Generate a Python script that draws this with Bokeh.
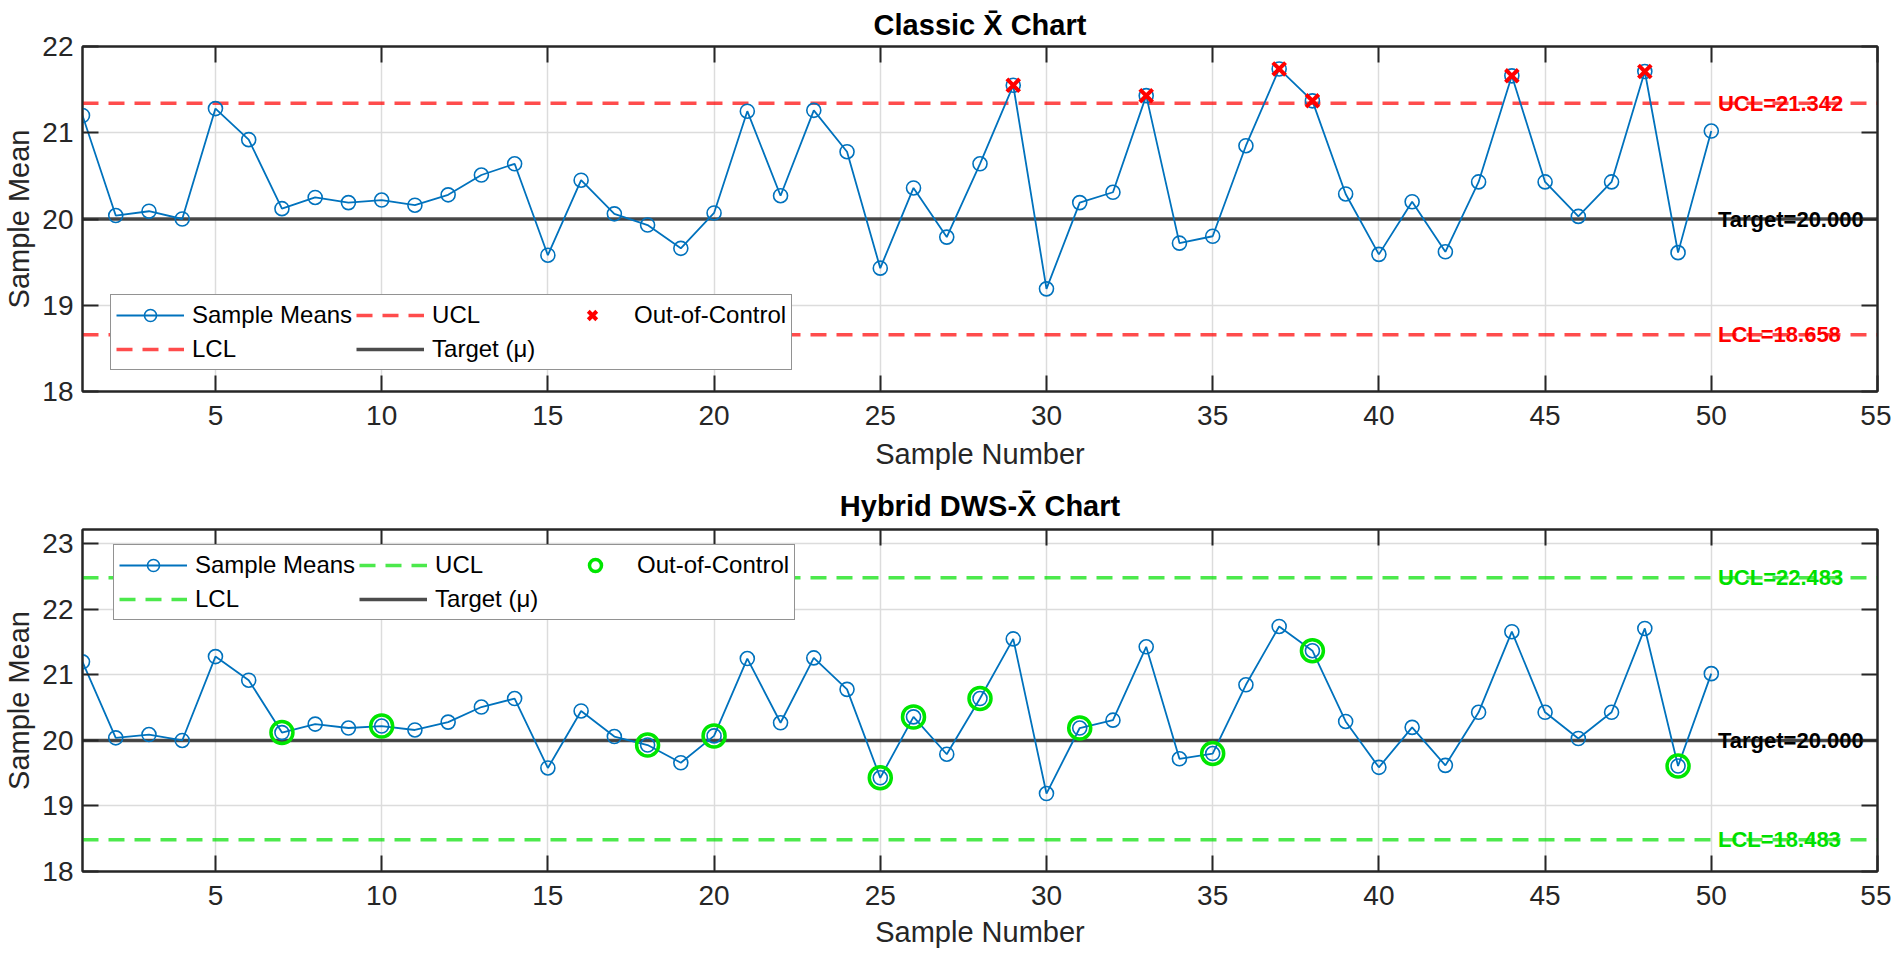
from bokeh.plotting import figure
from bokeh.models import Range1d, FixedTicker, LinearAxis, Legend, LegendItem
from bokeh.layouts import column
from bokeh.core.properties import value
from bokeh.embed import file_html
from bokeh.resources import INLINE

# ---------------- data ----------------
sample_no = list(range(1, 51))
sample_means = [21.20, 20.04, 20.09, 20.00, 21.28, 20.92, 20.12, 20.25, 20.19, 20.22,
                20.16, 20.28, 20.51, 20.64, 19.58, 20.45, 20.06, 19.93, 19.66, 20.07,
                21.25, 20.27, 21.26, 20.78, 19.43, 20.36, 19.79, 20.64, 21.55, 19.19,
                20.19, 20.31, 21.43, 19.72, 19.80, 20.85, 21.74, 21.37, 20.29, 19.59,
                20.20, 19.62, 20.43, 21.66, 20.43, 20.03, 20.43, 21.71, 19.61, 21.02]
target = 20.000
classic_ucl = 21.342
classic_lcl = 18.658
hybrid_ucl = 22.483
hybrid_lcl = 18.483
classic_ooc = [29, 33, 37, 38, 44, 48]
hybrid_ooc = [7, 10, 18, 20, 25, 26, 28, 31, 35, 38, 49]
x_limits = [1, 55]
x_ticks = [5, 10, 15, 20, 25, 30, 35, 40, 45, 50, 55]
classic_y_limits = [18, 22]
classic_y_ticks = [18, 19, 20, 21, 22]
hybrid_y_limits = [18, 23.22]
hybrid_y_ticks = [18, 19, 20, 21, 22, 23]
titles = ["Classic X\u0304 Chart", "Hybrid DWS-X\u0304 Chart"]

FONT = "Liberation Sans"
AX = "#262626"
BLUE = "#0072BD"


def make_chart(title, ylim, yticks, ucl, lcl, ooc_idx, lim_color, ooc_kind,
               top_border, title_standoff, frame_h, bottom_border, label_standoff,
               legend_loc):
    p = figure(frame_width=1795, frame_height=frame_h, output_backend="svg",
               toolbar_location=None, x_range=Range1d(*x_limits),
               y_range=Range1d(*ylim), min_border_left=77, min_border_right=14,
               min_border_top=top_border, min_border_bottom=bottom_border,
               background_fill_color="white", border_fill_color="white")
    p.outline_line_color = AX
    p.outline_line_width = 2
    p.title.text = title
    p.title.text_font = FONT
    p.title.text_font_size = "29px"
    p.title.text_font_style = "bold"
    p.title.text_color = "black"
    p.title.align = "center"
    p.title.standoff = title_standoff

    for ax, tk in ((p.xaxis[0], x_ticks), (p.yaxis[0], yticks)):
        ax.ticker = FixedTicker(ticks=tk)
        ax.major_tick_in = 16
        ax.major_tick_out = 0
        ax.minor_tick_line_color = None
        ax.axis_line_color = AX
        ax.axis_line_width = 2
        ax.major_tick_line_color = AX
        ax.major_tick_line_width = 2
        ax.major_label_text_font = FONT
        ax.major_label_text_font_size = "28px"
        ax.major_label_text_color = AX
        ax.axis_label_text_font = FONT
        ax.axis_label_text_font_size = "29px"
        ax.axis_label_text_font_style = "normal"
        ax.axis_label_text_color = AX
    p.xaxis.axis_label = "Sample Number"
    p.yaxis.axis_label = "Sample Mean"
    p.xaxis.major_label_standoff = 14
    p.xaxis.axis_label_standoff = label_standoff
    p.yaxis.major_label_standoff = 9
    p.yaxis.axis_label_standoff = 4

    # box ticks on the top and right edges (no labels)
    for side, tk in (("above", x_ticks), ("right", yticks)):
        a = LinearAxis(ticker=FixedTicker(ticks=tk), major_tick_in=16, major_tick_out=0,
                       minor_tick_line_color=None, axis_line_color=AX, axis_line_width=2,
                       major_tick_line_color=AX, major_tick_line_width=2,
                       major_label_text_color=None, major_label_standoff=0)
        p.add_layout(a, side)

    p.xgrid.ticker = FixedTicker(ticks=x_ticks)
    p.ygrid.ticker = FixedTicker(ticks=yticks)
    p.grid.grid_line_color = "#dcdcdc"
    p.grid.grid_line_width = 1.5

    # limit lines
    r_ucl = p.line(x_limits, [ucl, ucl], line_color=lim_color, line_alpha=0.7,
                   line_width=3.5, line_dash="16 10")
    r_lcl = p.line(x_limits, [lcl, lcl], line_color=lim_color, line_alpha=0.7,
                   line_width=3.5, line_dash="16 10")
    r_tgt = p.line(x_limits, [target, target], line_color="black", line_alpha=0.7,
                   line_width=3.5)

    # data
    r_line = p.line(sample_no, sample_means, line_color=BLUE, line_width=1.8)
    r_pts = p.scatter(sample_no, sample_means, marker="circle", size=14,
                      fill_color=None, line_color=BLUE, line_width=1.6)

    ooc_y = [sample_means[i - 1] for i in ooc_idx]
    if ooc_kind == "x":
        r_ooc = p.scatter(ooc_idx, ooc_y, marker="x", size=18, line_color="#ff0000",
                          line_width=4)
    else:
        r_ooc = p.scatter(ooc_idx, ooc_y, marker="circle", size=22, fill_color=None,
                          line_color="#00e600", line_width=3.5)

    # annotations
    lab_x = [50.2, 50.2, 50.2]
    lab_y = [ucl, target, lcl]
    lab_t = [f"UCL={ucl:.3f}", f"Target={target:.3f}", f"LCL={lcl:.3f}"]
    lab_c = [lim_color, "black", lim_color]
    p.text(lab_x, lab_y, text=lab_t, text_color=lab_c, text_font=value(FONT),
           text_font_size=value("22px"), text_font_style="bold",
           text_align="left", text_baseline="middle")

    legend = Legend(items=[
        LegendItem(label="Sample Means", renderers=[r_line, r_pts]),
        LegendItem(label="LCL", renderers=[r_lcl]),
        LegendItem(label="UCL", renderers=[r_ucl]),
        LegendItem(label="Target (\u03bc)", renderers=[r_tgt]),
        LegendItem(label="Out-of-Control", renderers=[r_ooc]),
    ], location=legend_loc, orientation="vertical", ncols=3,
        label_text_font=FONT, label_text_font_size="24px", label_text_color="black",
        glyph_width=68, glyph_height=30, label_standoff=8, label_width=122,
        padding=5, spacing=4, margin=0, border_line_color="#262626",
        border_line_width=1.5, background_fill_color="white", background_fill_alpha=1.0)
    p.add_layout(legend, "center")
    return p


top = make_chart(titles[0], classic_y_limits, classic_y_ticks, classic_ucl, classic_lcl,
                 classic_ooc, "#ff0000", "x", 46, 11, 345, 88, 10, (28, 21))
bottom = make_chart(titles[1], hybrid_y_limits, hybrid_y_ticks, hybrid_ucl, hybrid_lcl,
                    hybrid_ooc, "#00e000", "o", 48, 16, 342, 86, 8, (31, 251))

layout = column(top, bottom, spacing=0)
open("out.html", "w").write(file_html(layout, INLINE))
